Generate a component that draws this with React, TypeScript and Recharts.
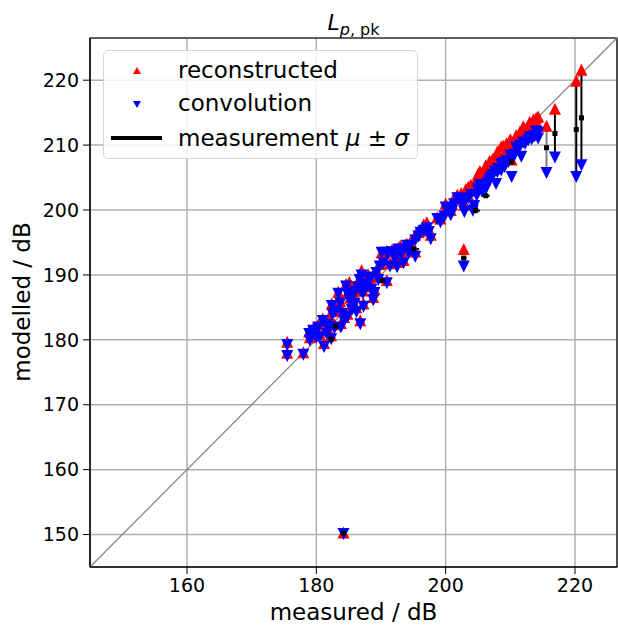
import React from 'react';
import { ScatterChart, Scatter, XAxis, YAxis, CartesianGrid, ReferenceLine, ReferenceArea, ErrorBar } from 'recharts';

// one entry per recording: measured level, and the two modelled levels
const measured = [
  175.5, 175.5, 178.0, 178.9, 179.0, 179.5, 180.3, 180.5, 181.0, 181.2, 181.5, 181.6, 182.3, 182.4, 182.5, 182.0,
  183.4, 183.7, 184.0, 183.8, 184.3, 184.6, 185.1, 185.2, 185.7, 185.9, 186.2, 186.4, 186.7, 187.0, 187.2, 187.3,
  186.8, 187.8, 188.3, 188.5, 188.8, 189.3, 189.6, 189.0,
  189.8, 190.1, 190.4, 190.9, 190.9, 191.4, 191.9, 192.2, 192.7, 193.0, 193.2, 193.5, 194.0, 194.5, 195.3, 195.3,
  196.1, 196.6, 197.1, 197.4, 197.7,
  198.7, 199.2, 200.3, 200.8, 201.0, 201.8, 202.4, 202.6, 202.9, 203.1, 203.9, 204.2, 204.4, 205.0, 205.0, 205.6,
  206.0, 206.5, 207.0, 207.6, 207.8, 208.1, 208.6, 208.6, 209.1, 209.7, 210.2, 210.2, 210.7, 211.2, 211.7, 212.3,
  212.8, 213.3, 213.8, 214.3, 214.3,
  203.5, 204.8, 205.3, 206.2, 206.8, 207.3, 208.0, 208.9, 209.4, 210.0, 210.9, 211.5, 212.0, 213.0, 213.6, 214.0,
  191.0, 191.7, 192.5, 194.3, 195.8, 199.8, 200.0, 201.3,
  183.0, 184.9, 185.5, 186.0, 186.9, 188.0, 187.6, 180.0, 182.8, 184.8,
  215.6, 216.9, 220.2, 221.0, 202.8, 184.2,
];
const reconstructed = [
  179.7, 178.0, 178.1, 181.3, 180.4, 181.8, 182.4, 180.9, 183.3, 179.5, 182.8, 181.4, 180.7, 185.6, 184.4, 183.6,
  187.4, 186.0, 184.5, 182.6, 183.5, 188.6, 188.9, 186.5, 187.6, 186.9, 185.0, 188.6, 189.6, 190.7, 187.6, 185.6,
  183.0, 188.6, 189.6, 188.2, 186.6, 190.8, 189.7, 187.8,
  191.7, 193.5, 192.3, 193.7, 189.2, 191.8, 193.8, 192.8, 194.2, 194.5, 193.7, 192.3, 194.8, 195.0, 193.6, 196.2,
  196.8, 197.8, 198.1, 197.1, 196.2,
  198.9, 198.7, 200.5, 200.0, 200.9, 202.4, 202.6, 201.6, 200.8, 203.2, 203.9, 201.0, 203.0, 205.6, 204.5, 205.3,
  206.0, 206.6, 207.3, 208.0, 206.4, 208.6, 209.8, 207.7, 208.8, 209.6, 210.3, 207.8, 210.6, 211.4, 210.9, 212.4,
  212.5, 213.0, 213.5, 214.4, 213.0,
  203.6, 204.9, 206.0, 206.9, 207.6, 207.9, 209.0, 209.9, 210.3, 210.9, 211.5, 212.1, 212.9, 213.6, 214.0, 214.2,
  193.6, 193.9, 192.0, 194.4, 196.6, 199.9, 201.0, 201.9,
  184.9, 187.4, 185.1, 187.8, 188.0, 190.1, 189.0, 180.8, 182.4, 184.0,
  213.0, 215.6, 219.9, 221.6, 194.0, 150.3,
];
const convolution = [
  179.2, 177.5, 177.7, 180.9, 179.9, 181.4, 181.9, 180.4, 182.9, 178.9, 182.3, 180.9, 180.1, 185.2, 183.9, 182.0,
  187.1, 185.6, 184.0, 181.9, 182.9, 188.2, 186.6, 186.0, 187.1, 185.5, 184.3, 188.1, 189.2, 189.9, 187.1, 185.1,
  182.4, 188.2, 189.2, 187.7, 186.1, 190.3, 189.2, 187.2,
  191.3, 193.4, 191.8, 193.4, 188.7, 191.3, 193.4, 192.4, 193.9, 193.6, 193.3, 191.8, 194.5, 194.5, 192.8, 195.3,
  196.5, 196.8, 197.2, 196.6, 195.5,
  198.6, 198.1, 200.2, 199.2, 199.8, 201.8, 201.5, 200.7, 199.7, 201.6, 202.3, 199.9, 200.6, 203.2, 202.9, 202.8,
  203.8, 204.2, 205.0, 205.9, 204.0, 206.3, 207.0, 206.1, 206.6, 207.4, 208.0, 205.1, 208.5, 209.2, 208.2, 210.2,
  210.8, 210.9, 211.4, 211.9, 211.0,
  201.8, 202.2, 203.8, 203.2, 204.6, 205.4, 205.8, 207.2, 207.5, 208.4, 209.6, 209.9, 210.4, 211.2, 211.3, 212.1,
  193.2, 193.5, 191.2, 193.3, 195.9, 199.0, 200.4, 200.9,
  184.4, 186.9, 184.6, 187.4, 187.5, 189.6, 188.5, 180.3, 181.8, 183.5,
  205.7, 208.1, 205.1, 206.9, 191.3, 150.1,
];

// visible measurement markers (mean and spread)
const meanX = [202.8, 215.6, 216.9, 220.2, 221.0, 184.2, 195.1, 190.2, 206.2, 204.6, 210.2, 182.3, 183.0];
const meanY = [192.6, 209.6, 211.8, 212.4, 214.2, 150.2, 194.0, 189.1, 202.2, 199.9, 207.4, 180.1, 182.1];
const meanSigma = [0.4, 0.3, 0.3, 0.3, 0.3, 0.4, 0.8, 0.7, 0.6, 0.7, 0.5, 0.6, 0.6];

const xTicks = [160, 180, 200, 220];
const yTicks = [150, 160, 170, 180, 190, 200, 210, 220];
const lo = 145;
const hi = 226.5;

const font = '"DejaVu Sans", sans-serif';

const recData = measured.map((x, i) => ({ x, y: reconstructed[i] }));
const convData = measured.map((x, i) => ({ x, y: convolution[i] }));
const meanData = meanX.map((x, i) => ({ x, y: meanY[i], s: meanSigma[i] }));
const spans = measured
  .map((x, i) => ({ x, top: reconstructed[i], bottom: convolution[i] }))
  .filter((d) => d.top - d.bottom > 5);

const UpTri = (p: any) => {
  const { cx, cy } = p;
  const r = 6;
  return <path d={`M${cx},${cy - r}L${cx + r},${cy + r}L${cx - r},${cy + r}Z`} fill="#ff0000" />;
};
const DownTri = (p: any) => {
  const { cx, cy } = p;
  const r = 6;
  return <path d={`M${cx},${cy + r}L${cx + r},${cy - r}L${cx - r},${cy - r}Z`} fill="#0000ff" />;
};
const Square = (p: any) => {
  const { cx, cy } = p;
  return <rect x={cx - 2.5} y={cy - 2.5} width={5} height={5} fill="#000" />;
};

export default function App() {
  return (
    <div style={{ position: 'absolute', left: 0, top: 0, width: 618, height: 628, background: '#fff', fontFamily: font }}>
      <ScatterChart width={618} height={628} margin={{ top: 38, right: 1, bottom: 0, left: 0 }}>
        <CartesianGrid stroke="#b0b0b0" strokeWidth={1.5} />
        <XAxis
          type="number"
          dataKey="x"
          domain={[lo, hi]}
          ticks={xTicks}
          allowDataOverflow
          height={61}
          tickSize={7}
          tickMargin={5}
          tick={{ fill: '#000', fontSize: 19, fontFamily: font }}
          tickLine={{ stroke: '#000' }}
          axisLine={{ stroke: '#000' }}
        />
        <YAxis
          type="number"
          dataKey="y"
          domain={[lo, hi]}
          ticks={yTicks}
          allowDataOverflow
          width={90}
          tickSize={7}
          tickMargin={4}
          tick={{ fill: '#000', fontSize: 19, fontFamily: font }}
          tickLine={{ stroke: '#000' }}
          axisLine={{ stroke: '#000' }}
        />
        <ReferenceLine segment={[{ x: lo, y: lo }, { x: hi, y: hi }]} stroke="#808080" strokeWidth={1.2} />
        {spans.map((d, i) => (
          <ReferenceLine
            key={i}
            segment={[{ x: d.x, y: d.bottom }, { x: d.x, y: d.top }]}
            stroke={i === 0 ? '#808080' : '#000'}
            strokeWidth={2}
          />
        ))}
        <Scatter data={recData} shape={UpTri} isAnimationActive={false} />
        <Scatter data={convData} shape={DownTri} isAnimationActive={false} />
        <Scatter data={meanData} shape={Square} isAnimationActive={false}>
          <ErrorBar dataKey="s" direction="x" width={0} stroke="#000" strokeWidth={2} />
        </Scatter>
        <ReferenceArea x1={lo} x2={hi} y1={lo} y2={hi} fill="none" fillOpacity={0} stroke="#000" strokeWidth={1.2} />
      </ScatterChart>

      <div style={{ position: 'absolute', left: 90, width: 527, top: 10, textAlign: 'center', fontSize: 22, color: '#000' }}>
        <i>L</i>
        <span style={{ fontSize: 16, position: 'relative', top: 5 }}>
          <i>p</i>, pk
        </span>
      </div>

      <div
        style={{
          position: 'absolute',
          left: 22,
          top: 302,
          transform: 'translate(-50%, -50%) rotate(-90deg)',
          whiteSpace: 'nowrap',
          fontSize: 23,
          color: '#000',
        }}
      >
        modelled / dB
      </div>
      <div style={{ position: 'absolute', left: 90, width: 527, top: 597, textAlign: 'center', fontSize: 23, color: '#000', lineHeight: '30px' }}>
        measured / dB
      </div>

      <div
        style={{
          position: 'absolute',
          left: 103,
          top: 50,
          width: 313,
          height: 107,
          border: '1.5px solid #d6d6d6',
          borderRadius: 5,
          background: 'rgba(255,255,255,0.85)',
          fontSize: 23,
          color: '#000',
        }}
      >
        <svg style={{ position: 'absolute', left: 0, top: 0 }} width={80} height={107}>
          <path d="M33,16L37,23L29,23Z" fill="#ff0000" />
          <path d="M33,57L37,50L29,50Z" fill="#0000ff" />
          <line x1={7} x2={58} y1={87} y2={87} stroke="#000" strokeWidth={4} />
        </svg>
        <div style={{ position: 'absolute', left: 74, top: 4, lineHeight: '30px', whiteSpace: 'nowrap' }}>reconstructed</div>
        <div style={{ position: 'absolute', left: 74, top: 37, lineHeight: '30px', whiteSpace: 'nowrap' }}>convolution</div>
        <div style={{ position: 'absolute', left: 74, top: 72, lineHeight: '30px', whiteSpace: 'nowrap' }}>
          measurement <i>μ</i> ± <i>σ</i>
        </div>
      </div>
    </div>
  );
}
